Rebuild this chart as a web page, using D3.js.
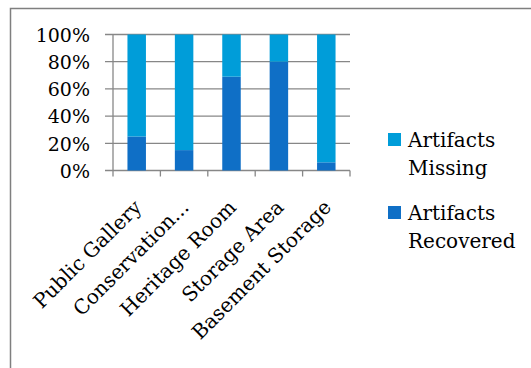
<!DOCTYPE html>
<html><head><meta charset="utf-8">
<script src="https://cdn.jsdelivr.net/npm/d3@7"></script>
<style>
html,body{margin:0;padding:0;background:#fff;}
svg{display:block;}
text{font-family:"DejaVu Serif",serif;fill:#000;}
</style></head>
<body><svg id="c" width="531" height="368"></svg>
<script>
const categories = ["Public Gallery","Conservation...","Heritage Room","Storage Area","Basement Storage"];
const recovered = [0.25, 0.15, 0.69, 0.80, 0.06];
const missing = [0.75, 0.85, 0.31, 0.20, 0.94];
const yTicks = [0, 0.2, 0.4, 0.6, 0.8, 1.0];
const seriesNames = ["Artifacts Missing","Artifacts Recovered"];
const colors = {recovered:"#0F6FC6", missing:"#009DD9"};

const svg = d3.select("#c");
const grid = "#878787";

// outer frame (left and top)
svg.append("path").attr("d","M10.5,368 V8.5 H531").attr("fill","none").attr("stroke","#7f7f7f").attr("stroke-width",1.5);

const x = d3.scaleBand().domain(categories).range([113,350]).paddingInner(0.61).paddingOuter(0.305);
const y = d3.scaleLinear().domain([0,1]).range([170.5,34.5]);
const step = x.step();
const x0 = 113;

// gridlines
svg.append("g").selectAll("line").data(yTicks).join("line")
  .attr("x1",105).attr("x2",350).attr("y1",d=>y(d)).attr("y2",d=>y(d))
  .attr("stroke",grid).attr("stroke-width",1.3);

// bars
const data = categories.map((c,i)=>({c, r:recovered[i], m:missing[i]}));
svg.append("g").selectAll("rect.r").data(data).join("rect")
  .attr("x",d=>x(d.c)).attr("width",x.bandwidth())
  .attr("y",d=>y(d.r)).attr("height",d=>y(0)-y(d.r)).attr("fill",colors.recovered);
svg.append("g").selectAll("rect.m").data(data).join("rect")
  .attr("x",d=>x(d.c)).attr("width",x.bandwidth())
  .attr("y",d=>y(d.r+d.m)).attr("height",d=>y(d.r)-y(d.r+d.m)).attr("fill",colors.missing);

// y axis line
svg.append("line").attr("x1",x0).attr("x2",x0).attr("y1",y(1)).attr("y2",y(0)).attr("stroke",grid).attr("stroke-width",1.3);
// x axis ticks
svg.append("g").selectAll("line").data(d3.range(categories.length+1)).join("line")
  .attr("x1",i=>x0+i*step).attr("x2",i=>x0+i*step).attr("y1",y(0)).attr("y2",y(0)+6)
  .attr("stroke",grid).attr("stroke-width",1.3);

// y labels
svg.append("g").selectAll("text").data(yTicks).join("text")
  .attr("x",90).attr("y",d=>y(d)).attr("dy","0.38em").attr("text-anchor","end")
  .attr("font-size",19).text(d=>Math.round(d*100)+"%");

// x labels
svg.append("g").selectAll("text").data(categories).join("text")
  .attr("text-anchor","end").attr("font-size",20)
  .attr("transform",d=>`translate(${x(d)+x.bandwidth()/2+6},${y(0)+38}) rotate(-45)`)
  .text(d=>d);

// legend
const leg = [{name:["Artifacts","Missing"], col:colors.missing, y:133},{name:["Artifacts","Recovered"], col:colors.recovered, y:206}];
const lg = svg.append("g").selectAll("g").data(leg).join("g");
lg.append("rect").attr("x",388).attr("y",d=>d.y).attr("width",13).attr("height",13).attr("fill",d=>d.col);
lg.append("text").attr("x",408).attr("y",d=>d.y+14).attr("font-size",20).text(d=>d.name[0]);
lg.append("text").attr("x",408).attr("y",d=>d.y+42).attr("font-size",20).text(d=>d.name[1]);
</script></body></html>
